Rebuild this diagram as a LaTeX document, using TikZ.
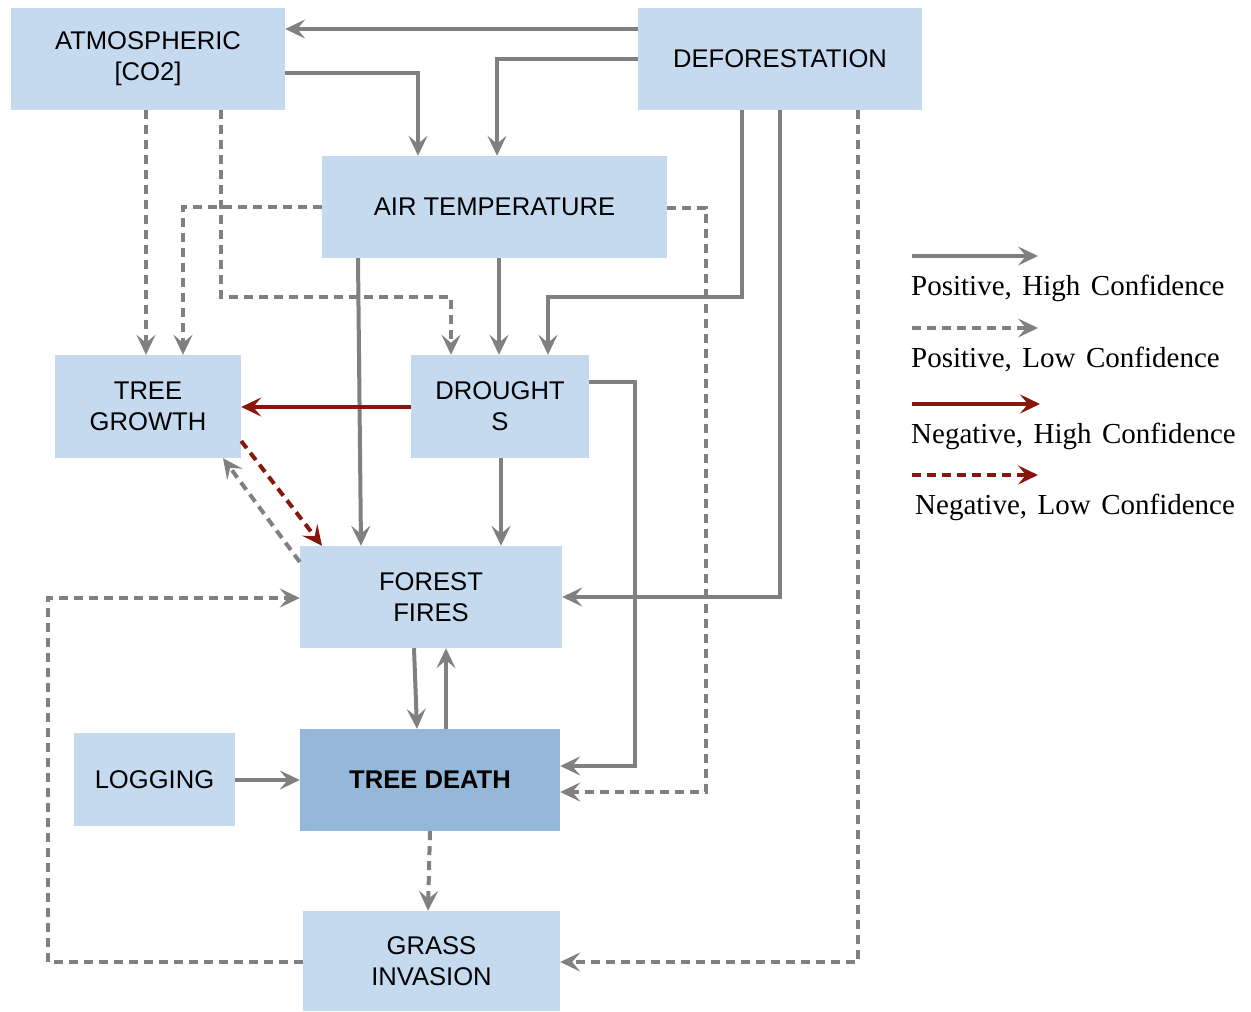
\documentclass[tikz,border=0pt]{standalone}
\usepackage{fontspec}
\setmainfont{Liberation Serif}
\newfontfamily\boxfont{Liberation Sans}
\usetikzlibrary{arrows.meta}
\definecolor{boxblue}{RGB}{197,218,239}
\definecolor{deathblue}{RGB}{149,183,216}
\definecolor{arrgray}{RGB}{128,128,128}
\definecolor{arrred}{RGB}{135,22,12}
\newcommand{\lsp}{\hspace{10.5pt}}
\begin{document}
\begin{tikzpicture}[x=1pt,y=-1pt,
  box/.style={fill=boxblue,draw=none,inner sep=0pt,align=center,
    font=\boxfont\fontsize{25.6}{31}\selectfont},
  tipstyle/.style={-{Stealth[length=20pt,width=19pt,inset=8pt]}},
  poshigh/.style={tipstyle,draw=arrgray,line width=4pt},
  poslow/.style={poshigh,dash pattern=on 9pt off 6pt},
  neghigh/.style={tipstyle,draw=arrred,line width=4pt},
  neglow/.style={neghigh,dash pattern=on 9pt off 6pt},
  legtext/.style={anchor=base west,inner sep=0pt,font=\fontsize{29}{32}\selectfont}]
\useasboundingbox (0,0) rectangle (1251,1012);
% boxes
\node[box,minimum width=274pt,minimum height=102pt] (atm) at (148,59) {ATMOSPHERIC\\{}[CO2]};
\node[box,minimum width=284pt,minimum height=102pt] (def) at (780,59) {DEFORESTATION};
\node[box,minimum width=345pt,minimum height=102pt] (air) at (494.5,207) {AIR TEMPERATURE};
\node[box,minimum width=186pt,minimum height=103pt] (tg) at (148,406.5) {TREE\\GROWTH};
\node[box,minimum width=178pt,minimum height=103pt] (dr) at (500,406.5) {DROUGHT\\S};
\node[box,minimum width=262pt,minimum height=102pt] (ff) at (431,597) {FOREST\\FIRES};
\node[box,minimum width=161pt,minimum height=93pt] (log) at (154.5,779.5) {LOGGING};
\node[box,fill=deathblue,minimum width=260pt,minimum height=102pt,font=\boxfont\bfseries\fontsize{25.6}{31}\selectfont] (td) at (430,780) {TREE DEATH};
\node[box,minimum width=257pt,minimum height=100pt] (gi) at (431.5,961) {GRASS\\INVASION};
% connectors
\draw[poshigh] (def.west |- 0,29) -- (atm.east |- 0,29);
\draw[poshigh] (atm.east |- 0,73) -| (air.north -| 418,0);
\draw[poshigh] (def.west |- 0,59) -| (air.north -| 497,0);
\draw[poslow] (atm.south -| 146,0) -- (tg.north -| 146,0);
\draw[poslow] (air.west |- 0,207) -| (tg.north -| 183,0);
\draw[poslow] (atm.south -| 221,0) |- (451,297) -- (dr.north -| 451,0);
\draw[poshigh] (air.south -| 499,0) -- (dr.north -| 499,0);
\draw[poshigh] (def.south -| 742,0) |- (548,297) -- (dr.north -| 548,0);
\draw[poshigh] (air.south -| 358,0) -- (ff.north -| 361,0);
\draw[neghigh] (dr.west |- 0,407) -- (tg.east |- 0,407);
\draw[poshigh] (dr.south -| 501,0) -- (ff.north -| 501,0);
\draw[poshigh] (dr.east |- 0,382) -| (635,766) -- (td.east |- 0,766);
\draw[poslow] (air.east |- 0,208) -| (706,792) -- (td.east |- 0,792);
\draw[poshigh] (def.south -| 780,0) |- (ff.east |- 0,597);
\draw[poslow] (def.south -| 858,0) |- (gi.east |- 0,962);
\draw[neglow] (tg.east |- 0,441) -- (ff.north -| 322,0);
\draw[poslow] (ff.west |- 0,562) -- (tg.south -| 223,0);
\draw[poslow] (gi.west |- 0,962) -| (48,598) -- (ff.west |- 0,598);
\draw[poshigh] (ff.south -| 414,0) -- (td.north -| 417,0);
\draw[poshigh] (td.north -| 446,0) -- (ff.south -| 446,0);
\draw[poshigh] (log.east |- 0,780) -- (td.west |- 0,780);
\draw[poslow] (td.south -| 430,0) -- (gi.north -| 428,0);
% legend
\coordinate (l1a) at (912,256); \coordinate (l1b) at (1038,256);
\coordinate (l2a) at (912,328); \coordinate (l2b) at (1038,328);
\coordinate (l3a) at (912,404); \coordinate (l3b) at (1040,404);
\coordinate (l4a) at (912,475); \coordinate (l4b) at (1038,475);
\draw[poshigh] (l1a) -- (l1b);
\draw[poslow] (l2a) -- (l2b);
\draw[neghigh] (l3a) -- (l3b);
\draw[neglow] (l4a) -- (l4b);
\node[legtext] (t1) at (911,295) {Positive,\lsp High\lsp Confidence};
\node[legtext] (t2) at (911,367) {Positive,\lsp Low\lsp Confidence};
\node[legtext] (t3) at (911,443) {Negative,\lsp High\lsp Confidence};
\node[legtext] (t4) at (915,514) {Negative,\lsp Low\lsp Confidence};
\end{tikzpicture}
\end{document}
